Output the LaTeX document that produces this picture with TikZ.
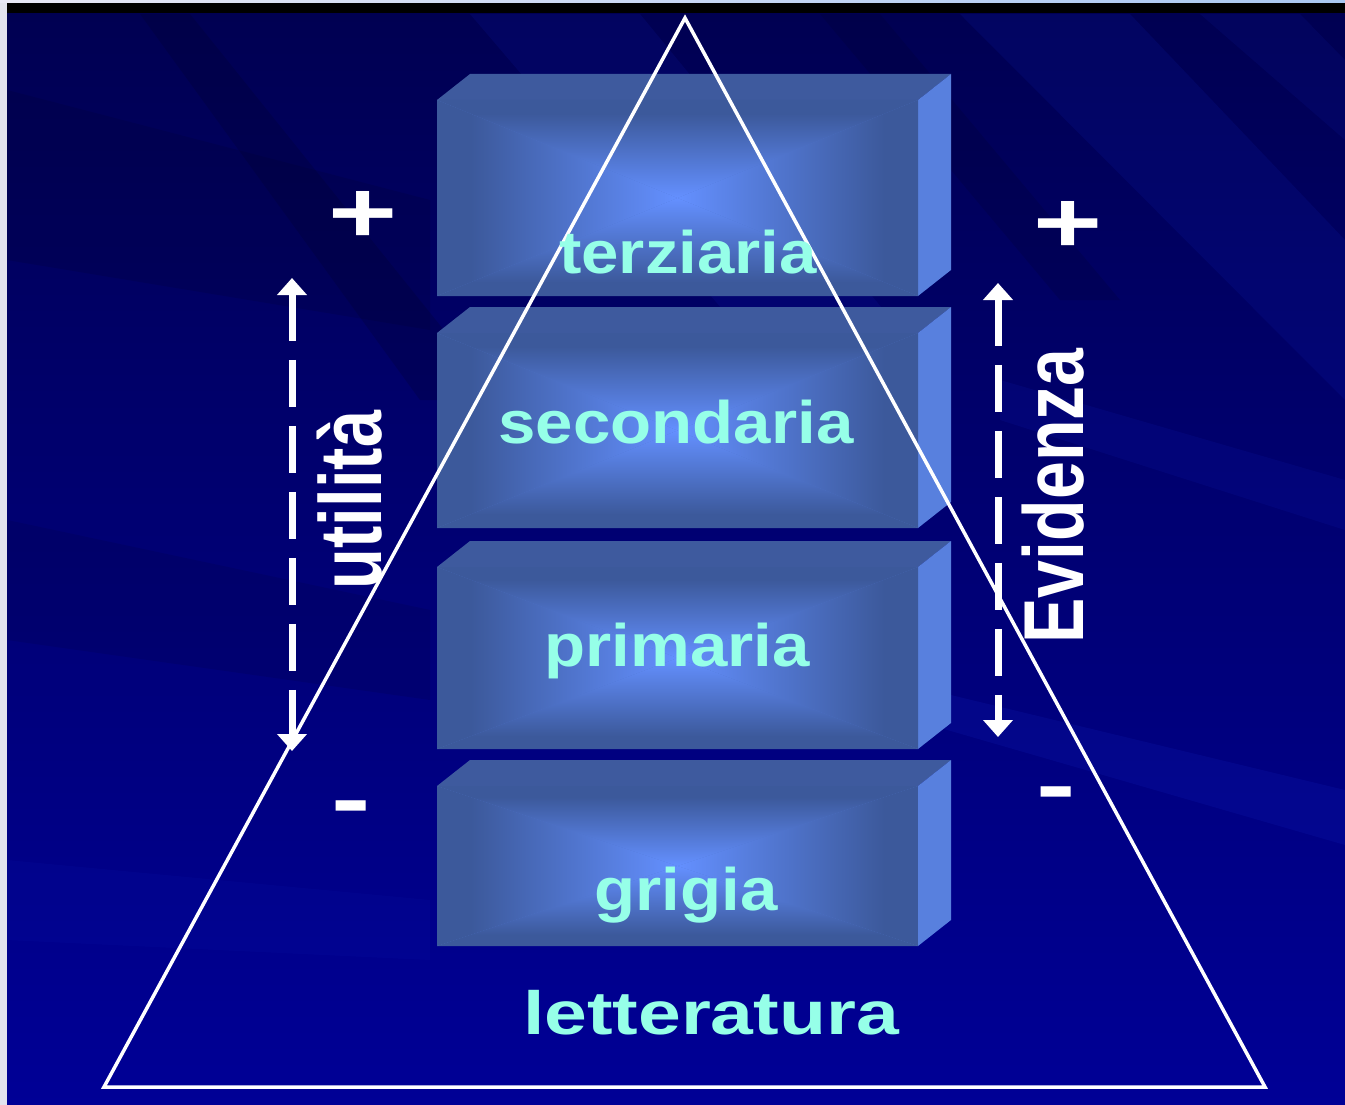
\documentclass[tikz,border=0pt]{standalone}
\usepackage{fontspec}
\setmainfont{Liberation Sans}
\newfontfamily\boxfont[FakeStretch=1.12]{Liberation Sans}
\newfontfamily\litfont[FakeStretch=1.26]{Liberation Sans}
\newfontfamily\utilfont[FakeStretch=0.76]{Liberation Sans}
\newfontfamily\evidfont[FakeStretch=0.80]{Liberation Sans}
\newfontfamily\signfont[FakeStretch=1.36]{Liberation Sans}
\usetikzlibrary{arrows.meta}
\definecolor{bgtop}{RGB}{0,0,82}
\definecolor{bgbot}{RGB}{0,0,150}
\definecolor{boxedge}{RGB}{60,89,155}
\definecolor{boxmid}{RGB}{100,144,255}
\definecolor{boxtop}{RGB}{62,90,158}
\definecolor{boxside}{RGB}{88,128,222}
\definecolor{labelcyan}{RGB}{150,255,232}
\definecolor{framegray}{RGB}{226,227,238}
\definecolor{streaklight}{RGB}{20,40,200}
\definecolor{streakdark}{RGB}{0,0,40}
\pgfdeclareverticalshading{slab}{100bp}{color(0bp)=(boxmid); color(25bp)=(boxmid); color(68bp)=(boxedge); color(100bp)=(boxedge)}
\newcommand\drawslab[2]{%
  \fill[boxtop] (437,#1) -- (470,{#1-26}) -- (951,{#1-26}) -- (918,#1) -- cycle;
  \fill[boxside] (918,#1) -- (951,{#1-26}) -- (951,{#2-26}) -- (918,#2) -- cycle;
  \fill[boxedge!50!boxmid] (437,#1) rectangle (918,#2);
  \path[shade,shading=slab,shading angle=0] (437,#1) -- (918,#1) -- (677.5,{(#1+#2)/2}) -- cycle;
  \path[shade,shading=slab,shading angle=180] (437,#2) -- (918,#2) -- (677.5,{(#1+#2)/2}) -- cycle;
  \path[shade,shading=slab,shading angle=90] (437,#1) -- (437,#2) -- (677.5,{(#1+#2)/2}) -- cycle;
  \path[shade,shading=slab,shading angle=270] (918,#1) -- (918,#2) -- (677.5,{(#1+#2)/2}) -- cycle;
}
\begin{document}
\begin{tikzpicture}[x=1pt,y=-1pt,
  lbl/.style={text=labelcyan,font=\boxfont\bfseries\fontsize{60}{60}\selectfont,inner sep=0pt,anchor=base},
  lit/.style={text=labelcyan,font=\litfont\bfseries\fontsize{61}{61}\selectfont,inner sep=0pt,anchor=base},
  sidelbl/.style={text=white,inner sep=0pt,anchor=base,rotate=90},
  sign/.style={text=white,font=\signfont\bfseries\fontsize{87}{87}\selectfont,inner sep=0pt,anchor=base},
  darrow/.style={white,line width=7pt,dash pattern=on 47pt off 19pt,
    {Triangle[width=29pt,length=17pt]}-{Triangle[width=29pt,length=17pt]}},
  pyr/.style={white,line width=3.5pt,line join=miter}]
\useasboundingbox (0,0) rectangle (1345,1105);
% frame and background
\fill[framegray] (0,0) rectangle (1345,1105);
\path[left color={rgb,255:red,232;green,232;blue,246},right color={rgb,255:red,170;green,200;blue,242}] (0,0) rectangle (1345,3);
\fill[black] (7,3) rectangle (1345,14);
\path[top color=bgtop,bottom color=bgbot] (7,14) rectangle (1345,1105);
% streaks
\begin{scope}
\clip (7,14) rectangle (1345,1105);
\fill[streakdark,opacity=0.22] (140,14) -- (190,14) -- (500,400) -- (420,400) -- cycle;
\fill[streakdark,opacity=0.16] (7,90) -- (430,200) -- (430,330) -- (7,260) -- cycle;
\fill[streaklight,opacity=0.12] (470,14) -- (640,14) -- (900,330) -- (740,330) -- cycle;
\fill[streakdark,opacity=0.18] (820,14) -- (880,14) -- (1120,300) -- (1060,300) -- cycle;
\fill[streaklight,opacity=0.13] (960,14) -- (1130,14) -- (1345,240) -- (1345,400) -- cycle;
\fill[streaklight,opacity=0.10] (1200,14) -- (1300,14) -- (1345,60) -- (1345,140) -- cycle;
\fill[streaklight,opacity=0.12] (1000,380) -- (1345,480) -- (1345,530) -- (1000,420) -- cycle;
\fill[streaklight,opacity=0.16] (930,690) -- (1345,790) -- (1345,845) -- (930,725) -- cycle;
\fill[streakdark,opacity=0.12] (7,520) -- (430,610) -- (430,700) -- (7,640) -- cycle;
\fill[streaklight,opacity=0.08] (7,860) -- (430,900) -- (430,960) -- (7,940) -- cycle;
\end{scope}
% slabs
\drawslab{100}{296}
\drawslab{333}{528}
\drawslab{567}{749}
\drawslab{786}{946}
% pyramid
\coordinate (apex) at (685,18);
\coordinate (bl) at (104,1087);
\coordinate (br) at (1265,1087);
\draw[pyr] (apex) -- (bl) -- (br) -- cycle;
% labels
\node[lbl] (terz) at (688,273) {terziaria};
\node[lbl] (sec) at (676,443) {secondaria};
\node[lbl] (prim) at (677,666) {primaria};
\node[lbl] (grig) at (686,910) {grigia};
\node[lit] (lett) at (711,1034) {letteratura};
\node[sidelbl,font=\utilfont\bfseries\fontsize{88}{88}\selectfont] (util) at (381,500) {utilità};
\node[sidelbl,font=\evidfont\bfseries\fontsize{85}{85}\selectfont] (evid) at (1083,496) {Evidenza};
% signs
\node[sign] (plusL) at (363,243) {+};
\node[sign] (minusL) at (351,828) {-};
\node[sign] (plusR) at (1068,252) {+};
\node[sign] (minusR) at (1056,814) {-};
% arrows
\coordinate (uTop) at (292,278);
\coordinate (uBot) at (292,751);
\coordinate (eTop) at (998,283);
\coordinate (eBot) at (998,737);
\draw[darrow] (uTop) -- (uBot);
\draw[darrow] (eTop) -- (eBot);
\end{tikzpicture}
\end{document}
